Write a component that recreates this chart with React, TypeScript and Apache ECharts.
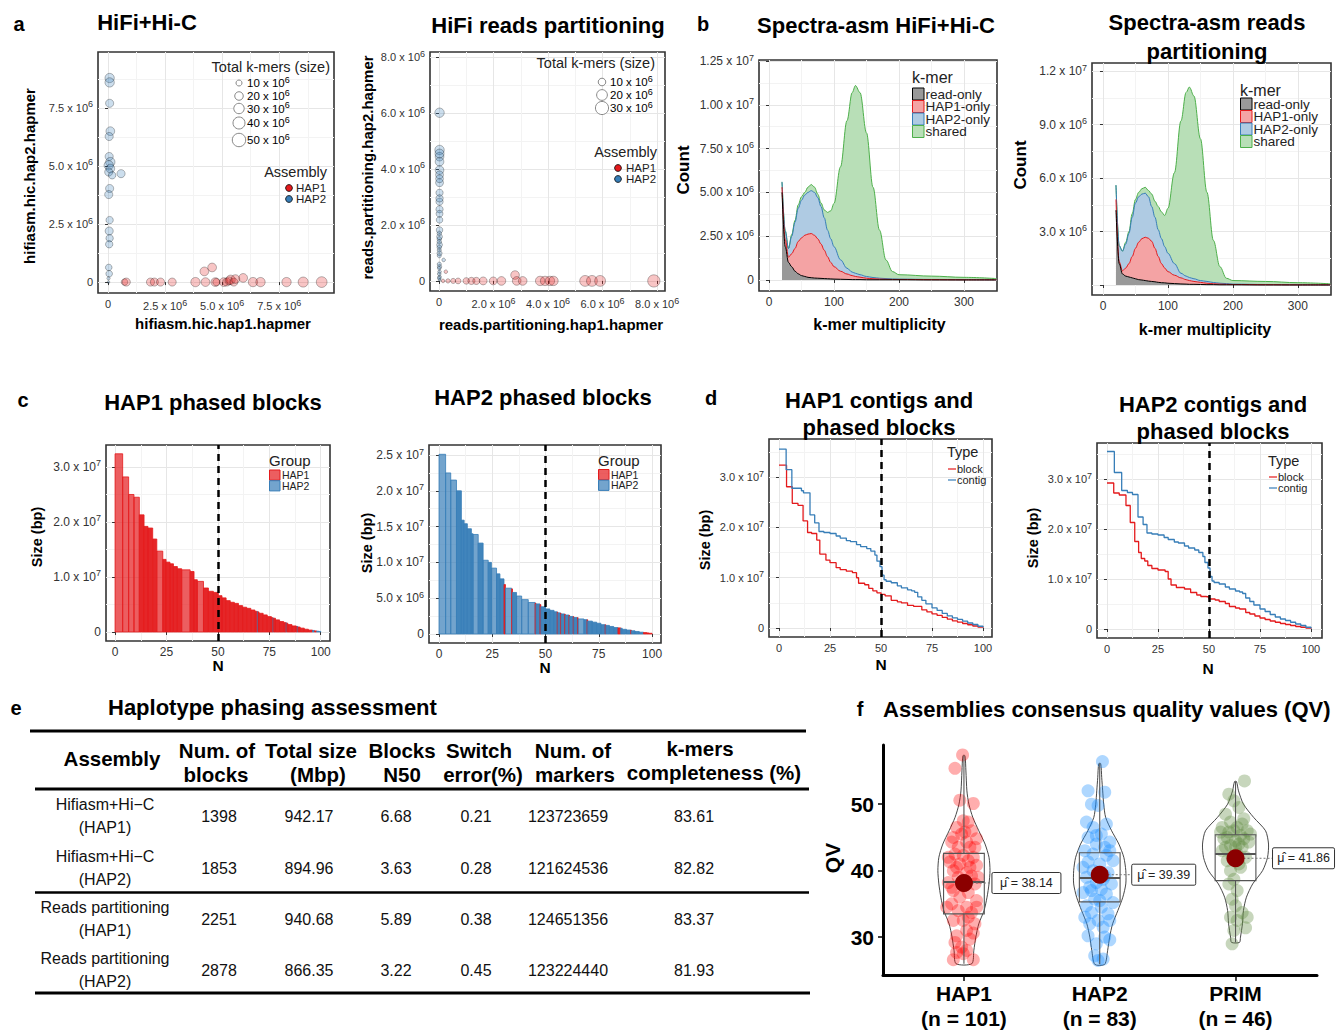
import React, { useEffect, useRef } from "react";
import * as echarts from "echarts";

const FONT = '"Liberation Sans", Arial, Helvetica, sans-serif';
const C_RED = "#e41a1c";
const C_BLUE = "#377eb8";
const C_GREEN = "#4daf4a";

// ---------------- panel a : hapmer blob plots (values in 1e6) ----------------
const aHicTicks = [0, 2.5, 5, 7.5];
const aHicTickLabels = ["0", "2.5 x 10^6", "5.0 x 10^6", "7.5 x 10^6"];
const aHicMinorTicks = [1.25, 3.75, 6.25, 8.75];
const aHicHap1X = [0.72, 0.8, 1.86, 2.03, 2.3, 2.81, 3.83, 4.22, 4.56, 4.27, 4.7, 4.75, 5.07, 5.2, 5.3, 5.37, 5.51, 5.58, 5.92, 6.35, 6.68, 7.82, 8.55, 9.36];
const aHicHap1Y = [0, 0, 0, 0, 0, 0, 0, 0.46, 0.63, 0, 0, 0, 0, 0, 0.05, 0.1, 0, 0.13, 0.18, 0, 0, 0, 0, 0];
const aHicHap1Size = [12, 18, 18, 18, 18, 18, 24, 21, 21, 21, 21, 15, 21, 18, 18, 24, 18, 21, 21, 24, 24, 24, 28, 32];
const aHicHap2X = [0.07, 0.07, 0.07, 0.1, 0.05, 0.05, 0.1, 0.03, 0.1, 0.03, 0.18, 0.57, 0.07, 0.03, 0.07, 0.05, 0.07, 0.05, 0.03, 0.05, 0.02, 0.02];
const aHicHap2Y = [8.79, 8.6, 7.7, 6.5, 6.27, 5.41, 5.17, 5.03, 4.89, 4.74, 4.6, 4.67, 4.03, 3.77, 2.67, 2.2, 1.89, 1.63, 0.63, 0.36, 0.16, 0];
const aHicHap2Size = [24, 24, 18, 21, 18, 18, 24, 24, 21, 18, 15, 18, 18, 18, 15, 18, 15, 15, 12, 12, 3, 2];
const aHicSizeLegend = [10, 20, 30, 40, 50];

const aRpTicks = [0, 2, 4, 6, 8];
const aRpTickLabels = ["0", "2.0 x 10^6", "4.0 x 10^6", "6.0 x 10^6", "8.0 x 10^6"];
const aRpMinorTicks = [1, 3, 5, 7];
const aRpHap1X = [0.15, 0.33, 0.52, 0.7, 1.0, 1.19, 1.37, 1.62, 1.99, 2.29, 2.79, 2.85, 3.07, 3.71, 3.89, 4.07, 4.2, 5.36, 5.61, 5.91, 7.88, 0.25];
const aRpHap1Y = [0, 0, 0, 0, 0, 0, 0, 0, 0, 0, 0.21, 0, 0, 0, 0, 0, 0, 0, 0, 0, 0, 0.33];
const aRpHap1Size = [1.9, 2.8, 3.8, 4.9, 6.3, 7.7, 7.7, 9.3, 9.3, 11, 11, 11, 11, 13, 13, 13, 13, 17.4, 17.4, 17.4, 22.3, 1.9];
const aRpHap2X = [0.02, 0.02, 0.02, 0.02, 0.02, 0.02, 0.02, 0.02, 0.02, 0.02, 0.02, 0.02, 0.02, 0.02, 0.02, 0.17, 0.02, 0.02, 0.02, 0.02, 0.01, 0.01, 0.01, 0.01, 0.01, 0.01, 0.01, 0.01, 0.01, 0.01, 0.02, 0.02, 0.02, 0.02];
const aRpHap2Y = [6.01, 4.68, 4.44, 4.26, 3.96, 3.79, 3.51, 3.15, 2.83, 2.56, 2.18, 1.82, 1.58, 1.29, 0.99, 0.75, 0.51, 0.33, 0.15, 0.04, 1.7, 1.5, 1.4, 1.2, 1.1, 0.9, 0.6, 0.45, 0.25, 0.1, 4.55, 3.65, 2.95, 2.4];
const aRpHap2Size = [13, 13, 11, 11, 11, 9.3, 9.3, 7.7, 7.7, 7.7, 6.3, 6.3, 4.9, 4.9, 3.8, 1.9, 2.8, 1.9, 1.9, 1.2, 3, 3, 3, 3, 2.5, 2.5, 2.5, 2, 2, 2, 12, 9, 8, 7];
const aRpSizeLegend = [10, 20, 30];
const assemblyNames = ["HAP1", "HAP2"];

// ---------------- panel b : spectra-asm (counts in 1e6, one layer per k-mer class) ----------------
const bMultiplicity = [20, 25, 30, 35, 40, 45, 50, 55, 60, 65, 70, 75, 80, 85, 90, 95, 100, 110, 120, 128, 133, 140, 150, 160, 170, 180, 190, 200, 250, 300, 350];
const bHicReadOnly = [5.0, 1.9, 1.0, 0.75, 0.5, 0.35, 0.25, 0.2, 0.15, 0.13, 0.11, 0.1, 0.09, 0.08, 0.07, 0.06, 0.05, 0.04, 0.03, 0.02, 0.02, 0.02, 0.01, 0.01, 0.01, 0.01, 0.01, 0.01, 0, 0, 0];
const bHicHap1Only = [0.3, 0.4, 0.3, 0.75, 1.3, 1.85, 2.15, 2.35, 2.47, 2.52, 2.44, 2.25, 1.96, 1.62, 1.26, 0.94, 0.71, 0.46, 0.31, 0.23, 0.18, 0.14, 0.09, 0.06, 0.04, 0.03, 0.02, 0.02, 0.02, 0.01, 0.01];
const bHicHap2Only = [0.3, 0.5, 0.5, 1.0, 1.5, 1.9, 2.15, 2.3, 2.38, 2.45, 2.45, 2.35, 2.15, 1.85, 1.52, 1.35, 1.14, 0.65, 0.33, 0.2, 0.18, 0.14, 0.1, 0.07, 0.05, 0.04, 0.03, 0.02, 0.01, 0.01, 0];
const bHicShared = [0, 0, 0, 0.1, 0.1, 0.2, 0.2, 0.15, 0.3, 0.35, 0.3, 0.2, 0.2, 0.45, 1.01, 1.6, 2.47, 5.31, 8.43, 10.25, 10.72, 10.4, 8.2, 5.16, 2.75, 1.06, 0.42, 0.25, 0.19, 0.13, 0.07];
const bRpReadOnly = [4.2, 1.2, 0.62, 0.5, 0.45, 0.4, 0.35, 0.3, 0.28, 0.25, 0.22, 0.2, 0.18, 0.15, 0.13, 0.12, 0.1, 0.08, 0.06, 0.05, 0.04, 0.04, 0.03, 0.02, 0.02, 0.01, 0.01, 0.01, 0, 0, 0];
const bRpHap1Only = [0.6, 0.1, 0.18, 0.45, 0.75, 1.2, 1.71, 2.1, 2.32, 2.43, 2.4, 2.25, 1.88, 1.45, 1.07, 0.83, 0.65, 0.47, 0.34, 0.25, 0.21, 0.16, 0.12, 0.08, 0.05, 0.04, 0.03, 0.02, 0.02, 0.01, 0.01];
const bRpHap2Only = [0.8, 0.9, 1.1, 1.35, 1.7, 2.2, 2.54, 2.55, 2.5, 2.47, 2.33, 1.95, 1.74, 1.5, 1.4, 1.2, 1.03, 0.65, 0.26, 0.2, 0.17, 0.15, 0.1, 0.1, 0.07, 0.05, 0.04, 0.02, 0.01, 0.01, 0];
const bRpShared = [0, 0, 0, 0.1, 0.1, 0.2, 0.2, 0.25, 0.3, 0.33, 0.35, 0.7, 0.9, 1.3, 1.5, 1.75, 2.52, 5.1, 8.54, 10.3, 10.68, 10.25, 7.95, 5.0, 2.36, 0.93, 0.3, 0.2, 0.17, 0.11, 0.06];
const kmerClasses = ["read-only", "HAP1-only", "HAP2-only", "shared"];
const bXTicks = [0, 100, 200, 300];
const bXTickLabels = ["0", "100", "200", "300"];
const bXMinor = [50, 150, 250];
const bHicYTicks = [0, 2.5, 5, 7.5, 10, 12.5];
const bHicYTickLabels = ["0", "2.50 x 10^6", "5.00 x 10^6", "7.50 x 10^6", "1.00 x 10^7", "1.25 x 10^7"];
const bHicYMinor = [1.25, 3.75, 6.25, 8.75, 11.25];
const bRpYTicks = [0, 3, 6, 9, 12];
const bRpYTickLabels = ["", "3.0 x 10^6", "6.0 x 10^6", "9.0 x 10^6", "1.2 x 10^7"];
const bRpYMinor = [1.5, 4.5, 7.5, 10.5];

// ---------------- panel c : phased blocks (N end %, size Mbp, group 1=HAP1 2=HAP2) ----------------
const cHap1End = [3.7, 6.6, 9.2, 11.8, 14.1, 16.0, 18.3, 20.3, 23.2, 24.8, 26.7, 28.4, 30.3, 32.4, 36.5, 38.4, 40.0, 43.0, 45.4, 47.8, 50.2, 52, 54, 56, 58, 60, 62, 64, 66, 68, 69.2, 69.5, 70, 72, 74, 76, 76.8, 77.1, 78, 80, 82, 83.2, 83.5, 84, 86, 88, 88.6, 88.9, 90, 92, 94, 96, 97, 98, 99, 100];
const cHap1Size = [32.4, 28.2, 25.0, 24.5, 21.3, 19.2, 18.9, 16.9, 14.7, 13.2, 12.7, 12.4, 11.9, 11.5, 11.3, 11.0, 9.5, 9.2, 8.0, 7.4, 7.2, 6.6, 6.2, 5.7, 5.4, 5.2, 4.8, 4.5, 4.3, 4.0, 3.75, 3.7, 3.65, 3.4, 3.1, 2.8, 2.6, 2.55, 2.5, 2.2, 1.9, 1.7, 1.65, 1.6, 1.35, 1.1, 1.02, 1.0, 0.9, 0.7, 0.5, 0.35, 0.28, 0.2, 0.15, 0.1];
const cHap1Group = [1, 1, 1, 1, 1, 1, 1, 1, 1, 1, 1, 1, 1, 1, 1, 1, 1, 1, 1, 1, 1, 1, 1, 1, 1, 1, 1, 1, 1, 1, 1, 2, 1, 1, 1, 1, 1, 2, 1, 1, 1, 1, 2, 1, 1, 1, 1, 2, 1, 1, 1, 1, 2, 1, 2, 2];
const cHap2End = [3.1, 5.5, 8.2, 10.5, 11.8, 13.3, 15.2, 16.0, 18.4, 20.7, 23.1, 24.6, 27.0, 28.6, 30.5, 31.2, 34.1, 34.5, 36.4, 38.8, 41.9, 45.1, 45.5, 47.4, 47.8, 50, 52, 54, 55.5, 55.8, 57, 57.3, 59, 59.3, 61, 61.3, 63, 63.3, 65, 65.3, 68, 69.5, 69.8, 72, 74, 76, 78, 78.3, 80, 82, 84, 85.3, 86, 88, 90, 90.3, 92, 94, 96, 97.5, 98.5, 100];
const cHap2Size = [25.1, 22.5, 21.5, 20.0, 15.9, 15.4, 14.7, 14.0, 13.9, 12.7, 10.3, 10.0, 9.2, 8.4, 7.7, 6.9, 6.4, 6.3, 5.8, 5.3, 4.8, 4.4, 4.3, 4.2, 4.1, 3.8, 3.5, 3.3, 3.1, 3.05, 2.95, 2.9, 2.8, 2.75, 2.65, 2.6, 2.45, 2.42, 2.3, 2.28, 2.1, 2.0, 1.98, 1.8, 1.65, 1.5, 1.3, 1.28, 1.2, 1.05, 0.9, 0.85, 0.8, 0.65, 0.55, 0.54, 0.45, 0.35, 0.25, 0.2, 0.15, 0.1];
const cHap2Group = [2, 2, 2, 2, 2, 2, 2, 2, 2, 2, 2, 2, 2, 2, 2, 1, 2, 1, 2, 2, 2, 2, 1, 2, 1, 2, 2, 2, 2, 1, 2, 1, 2, 1, 2, 1, 2, 1, 2, 1, 2, 2, 1, 2, 2, 2, 2, 1, 2, 2, 2, 1, 2, 2, 2, 1, 2, 2, 2, 1, 1, 1];
const nTicks = [0, 25, 50, 75, 100];
const nTickLabels = ["0", "25", "50", "75", "100"];
const nMinor = [12.5, 37.5, 62.5, 87.5];
const cHap1YTicks = [0, 10, 20, 30];
const cHap1YTickLabels = ["0", "1.0 x 10^7", "2.0 x 10^7", "3.0 x 10^7"];
const cHap1YMinor = [5, 15, 25];
const cHap2YTicks = [0, 5, 10, 15, 20, 25];
const cHap2YTickLabels = ["0", "5.0 x 10^6", "1.0 x 10^7", "1.5 x 10^7", "2.0 x 10^7", "2.5 x 10^7"];
const cHap2YMinor = [2.5, 7.5, 12.5, 17.5, 22.5];
const nxMark = 50;

// ---------------- panel d : contigs vs blocks (N start %, size Mbp) ----------------
const dHap1ContigN = [0, 3.5, 6.3, 11, 12, 15.2, 17.5, 19.6, 22, 25, 28, 30, 33, 35, 38, 40, 43, 45, 47, 48, 49.5, 50.5, 51.5, 52.5, 55, 58, 60, 63, 65, 66.5, 68, 70, 72, 75, 77.5, 80, 82.5, 85, 87.5, 90, 92.5, 95, 97.5, 100];
const dHap1ContigSize = [35.6, 31.5, 27.8, 27.3, 26.9, 22.5, 20.9, 19.2, 19.0, 18.8, 18.3, 17.9, 17.4, 17.2, 16.6, 16.2, 15.8, 15.3, 14.5, 13.3, 12.2, 10.5, 9.6, 9.3, 9.0, 8.4, 8.0, 7.6, 7.4, 7.1, 6.2, 5.5, 4.8, 4.0, 3.5, 2.9, 2.4, 2.0, 1.7, 1.35, 1.0, 0.7, 0.35, 0.1];
const dHap1BlockN = [0, 3.7, 6.5, 9.3, 11.8, 14, 16, 18.5, 20, 23, 25, 28, 30, 33, 36, 38, 39, 42, 44, 46, 48, 50, 52, 55, 58, 60, 63, 66, 70, 72.5, 75, 77.5, 80, 82.5, 85, 87.5, 90, 92.5, 95, 97.5, 100];
const dHap1BlockSize = [32.4, 28.1, 24.8, 24.4, 21.3, 19.0, 18.8, 17.5, 14.7, 13.5, 13.0, 12.0, 11.6, 11.3, 11.0, 10.0, 8.9, 8.6, 7.9, 7.4, 7.0, 6.7, 6.4, 5.5, 5.2, 5.0, 4.5, 4.3, 3.6, 3.2, 2.8, 2.5, 2.1, 1.75, 1.4, 1.15, 0.9, 0.65, 0.4, 0.2, 0.05];
const dHap2ContigN = [0, 3.6, 7.2, 10, 12.5, 15.2, 17.7, 19.6, 22, 25, 28, 30, 33, 35, 38, 40, 43, 45, 47, 48, 49.5, 50.5, 51.5, 52.5, 55, 58, 60, 63, 65, 66.5, 68, 70, 72, 75, 77.5, 80, 82.5, 85, 87.5, 90, 92.5, 95, 97.5, 100];
const dHap2ContigSize = [35.5, 31.3, 27.7, 27.3, 26.9, 22.4, 20.9, 19.2, 19.0, 18.8, 18.3, 17.9, 17.4, 17.2, 16.6, 16.2, 15.8, 15.3, 14.5, 13.3, 12.2, 10.5, 9.6, 9.3, 9.0, 8.4, 8.0, 7.6, 7.4, 7.1, 6.2, 5.5, 4.8, 4.0, 3.5, 2.9, 2.4, 2.0, 1.7, 1.35, 1.0, 0.7, 0.35, 0.1];
const dHap2BlockN = [0, 3.3, 6, 9.3, 11.4, 13.6, 15.5, 16.8, 18.5, 20, 22, 25, 28.5, 30, 31.4, 34, 38, 41, 44, 46, 48.5, 50, 53, 55, 58, 60, 63, 65, 68, 70, 72.5, 75, 77.5, 80, 82.5, 85, 87.5, 90, 92.5, 95, 97.5, 100];
const dHap2BlockSize = [29.2, 27.2, 26.8, 24.7, 21.3, 17.5, 15.3, 14.1, 13.6, 12.7, 12.1, 11.8, 11.5, 10.0, 8.8, 8.3, 8.0, 7.3, 6.8, 6.5, 6.4, 6.0, 5.8, 5.5, 5.1, 4.5, 4.2, 4.0, 3.3, 3.0, 2.6, 2.2, 1.9, 1.6, 1.35, 1.1, 0.9, 0.7, 0.5, 0.35, 0.2, 0.05];
const dYTicks = [0, 10, 20, 30];
const dYTickLabels = ["0", "1.0 x 10^7", "2.0 x 10^7", "3.0 x 10^7"];
const dYMinor = [5, 15, 25, 35];
const typeNames = ["block", "contig"];

// ---------------- panel e : table ----------------
const tblHeaders = [["Assembly"], ["Num. of", "blocks"], ["Total size", "(Mbp)"], ["Blocks", "N50"], ["Switch", "error(%)"], ["Num. of", "markers"], ["k-mers", "completeness (%)"]];
const tblAssembly = [["Hifiasm+Hi−C", "(HAP1)"], ["Hifiasm+Hi−C", "(HAP2)"], ["Reads partitioning", "(HAP1)"], ["Reads partitioning", "(HAP2)"]];
const tblNumBlocks = ["1398", "1853", "2251", "2878"];
const tblTotalSize = ["942.17", "894.96", "940.68", "866.35"];
const tblN50 = ["6.68", "3.63", "5.89", "3.22"];
const tblSwitch = ["0.21", "0.28", "0.38", "0.45"];
const tblMarkers = ["123723659", "121624536", "124651356", "123224440"];
const tblKmer = ["83.61", "82.82", "83.37", "81.93"];

// ---------------- panel f : QV ----------------
const qvGroups = ["HAP1", "HAP2", "PRIM"];
const qvCounts = [101, 83, 46];
const qvMeans = [38.14, 39.39, 41.86];
const qvQ1 = [33.5, 35.3, 38.5];
const qvMedian = [38.3, 38.9, 42.5];
const qvQ3 = [42.6, 42.7, 45.4];
const qvMin = [26.0, 25.9, 29.2];
const qvMax = [57.3, 56.1, 53.4];
const qvYTicks = [30, 40, 50];
const violinHap1Levels = [26.0, 28, 30, 32, 34, 36, 38, 40, 42, 44, 46, 48, 50, 52, 55, 57.3];
const violinHap1Density = [0.24, 0.3, 0.36, 0.45, 0.61, 0.7, 0.76, 0.79, 0.76, 0.64, 0.45, 0.27, 0.15, 0.09, 0.06, 0.03];
const violinHap2Levels = [25.9, 28, 30, 32, 34, 36, 38, 40, 42, 44, 46, 48, 50, 52, 54, 56.1];
const violinHap2Density = [0.15, 0.24, 0.3, 0.39, 0.55, 0.7, 0.79, 0.79, 0.73, 0.58, 0.36, 0.18, 0.12, 0.09, 0.06, 0.03];
const violinPrimLevels = [29.2, 30, 32, 34, 36, 38, 40, 42, 44, 46, 48, 50, 52, 53.4];
const violinPrimDensity = [0.12, 0.15, 0.21, 0.24, 0.33, 0.52, 0.82, 0.97, 1.0, 0.91, 0.55, 0.24, 0.09, 0.03];
const qvHap1Points = [[-0.01, 57.4], [-0.066, 55.4], [-0.03, 50.6], [0.069, 50.1], [-0.005, 47.5], [0.032, 47.3], [-0.054, 46.5], [0.056, 46.0], [-0.017, 45.5], [-0.078, 45.0], [0.093, 44.8], [0.02, 44.3], [-0.042, 43.5], [0.044, 43.5], [-0.066, 42.5], [-0.005, 42.3], [0.069, 42.0], [-0.103, 41.3], [-0.03, 41.0], [0.032, 41.5], [0.093, 40.8], [-0.078, 40.0], [0.02, 39.7], [0.056, 39.2], [-0.042, 39.0], [-0.115, 38.2], [-0.005, 37.7], [0.081, 38.0], [-0.078, 37.0], [0.032, 36.7], [-0.03, 36.0], [0.093, 35.5], [-0.09, 35.0], [0.02, 34.5], [-0.042, 34.0], [0.056, 33.7], [-0.078, 32.5], [-0.005, 32.5], [0.081, 32.0], [0.02, 31.0], [0.069, 30.6], [-0.054, 30.2], [0.044, 29.7], [-0.066, 29.2], [-0.017, 28.5], [0.02, 28.0], [-0.054, 27.7], [-0.005, 27.5], [-0.078, 26.6], [0.069, 26.6], [-0.09, 44.3], [0.081, 43.5], [0.007, 45.8], [-0.115, 42.0], [0.105, 39.0], [-0.054, 40.5], [0.044, 40.5], [-0.09, 37.5], [-0.127, 34.5], [0.093, 34.5], [0.032, 33.0]];
const qvHap2Points = [[0.02, 56.4], [-0.086, 52.0], [0.037, 51.8], [-0.061, 50.0], [-0.012, 49.8], [-0.098, 47.3], [0.049, 47.0], [-0.049, 46.5], [0.012, 45.5], [-0.086, 45.0], [0.074, 44.3], [-0.025, 44.0], [0.037, 43.5], [-0.11, 43.0], [-0.049, 42.5], [0.049, 42.3], [0.098, 41.5], [-0.086, 41.3], [0, 41.0], [-0.049, 40.0], [0.061, 39.7], [-0.098, 39.0], [0.025, 38.7], [-0.025, 38.2], [0.086, 38.0], [-0.074, 37.5], [0.012, 37.2], [-0.123, 36.7], [0.049, 36.5], [-0.037, 35.7], [0.098, 35.2], [-0.098, 34.7], [0.012, 34.5], [-0.061, 33.7], [0.061, 33.5], [-0.11, 33.0], [-0.012, 32.5], [0.074, 32.5], [-0.074, 32.0], [0.025, 31.5], [-0.086, 30.2], [0.037, 30.0], [0.074, 29.6], [-0.025, 29.0], [-0.037, 27.2], [0.025, 26.7], [-0.012, 26.5], [-0.025, 45.3], [0.074, 43.0], [-0.123, 40.5], [0.037, 39.2], [-0.061, 37.0], [0, 35.5]];
const qvPrimPoints = [[0.066, 53.5], [-0.049, 51.5], [-0.012, 50.5], [0.025, 49.5], [-0.074, 48.5], [0.061, 47.8], [-0.037, 47.3], [-0.098, 46.5], [0.012, 46.5], [0.086, 46.0], [-0.049, 45.8], [0.037, 45.3], [-0.086, 44.8], [0, 44.5], [0.098, 44.3], [-0.037, 43.8], [0.049, 43.5], [-0.098, 43.0], [0.012, 42.5], [0.074, 42.0], [-0.061, 41.5], [0.025, 41.0], [-0.037, 40.0], [-0.012, 38.7], [-0.049, 38.0], [0.012, 37.0], [-0.025, 35.7], [0, 34.7], [0.049, 33.7], [-0.037, 33.0], [0.012, 32.5], [0.074, 31.4], [-0.012, 31.0], [-0.025, 29.0], [-0.11, 45.8], [0.11, 45.5], [-0.074, 43.5], [0.037, 40.5], [0, 43.5], [0.049, 47.0], [-0.061, 45.0], [0.061, 44.8], [-0.012, 46.0], [0.025, 44.0], [-0.025, 42.0], [0.086, 33.0]];

// ---------------- helpers ----------------
// "2.5 x 10^6" -> rich text with a raised exponent
function supRich(label: string) {
  const k = label.indexOf("^");
  if (k < 0) return `{m|${label}}`;
  return `{m|${label.slice(0, k)}}{s|${label.slice(k + 1)}}`;
}
function richStyles(size: number, color: string) {
  return {
    m: { fontSize: size, color, fontFamily: FONT },
    s: { fontSize: Math.round(size * 0.78), color, fontFamily: FONT, padding: [0, 0, Math.round(size * 0.6), 0] },
  };
}
function fmtFrom(ticks: number[], labels: string[]) {
  return (v: number) => {
    for (let i = 0; i < ticks.length; i++) if (Math.abs(ticks[i] - v) < 1e-6) return supRich(labels[i]);
    return "";
  };
}

function majorAxis(gridIndex: number, isX: boolean, s: any) {
  return {
    type: "value", gridIndex, min: s.min, max: s.max, position: isX ? "bottom" : "left",
    axisLine: { show: false },
    axisTick: { show: true, inside: false, length: 3, lineStyle: { color: "#333", width: 1 }, customValues: s.ticks },
    axisLabel: { show: true, customValues: s.ticks, formatter: fmtFrom(s.ticks, s.labels), color: "#333", fontSize: s.fontSize, fontFamily: FONT, margin: 5, rich: richStyles(s.fontSize, "#333") },
    splitLine: { show: true, lineStyle: { color: "#e6e6e6", width: 1 } },
  };
}
function minorAxis(gridIndex: number, isX: boolean, s: any) {
  return {
    type: "value", gridIndex, min: s.min, max: s.max, position: isX ? "top" : "right",
    axisLine: { show: false },
    axisTick: { show: false, customValues: s.minor },
    axisLabel: { show: false, customValues: s.minor },
    splitLine: { show: true, lineStyle: { color: "#f3f3f3", width: 1 } },
  };
}

function txt(text: string, x: number, y: number, size: number, o: any = {}) {
  return {
    type: "text", x, y, z: 100, rotation: o.rot ? Math.PI / 2 : 0,
    style: {
      text, fill: o.color || "#000",
      font: `${o.bold ? "bold " : ""}${size}px ${FONT}`,
      textAlign: o.align || "center", textVerticalAlign: "middle",
    },
  };
}
function supTxt(label: string, x: number, y: number, size: number, color: string) {
  return {
    type: "text", x, y, z: 100,
    style: { text: supRich(label), rich: richStyles(size, color), textAlign: "left", textVerticalAlign: "middle" },
  };
}

function buildOption() {
  const grid: any[] = [], xAxis: any[] = [], yAxis: any[] = [], series: any[] = [], g: any[] = [];

  const panel = (rect: number[], xs: any, ys: any) => {
    const gi = grid.length;
    grid.push({ left: rect[0], top: rect[1], width: rect[2], height: rect[3], show: true, backgroundColor: "#fff", borderColor: "#333", borderWidth: 1.6, containLabel: false, outerBoundsMode: "none" });
    const xi = xAxis.length; xAxis.push(majorAxis(gi, true, xs));
    const yi = yAxis.length; yAxis.push(majorAxis(gi, false, ys));
    xAxis.push(minorAxis(gi, true, xs));
    yAxis.push(minorAxis(gi, false, ys));
    return { xi, yi };
  };

  // ---------- a ----------
  const blob = (P: any, xs: number[], ys: number[], ss: number[], k: number, fill: string) => ({
    type: "scatter", xAxisIndex: P.xi, yAxisIndex: P.yi,
    data: xs.map((x, i) => [x, ys[i], ss[i]]),
    symbolSize: (d: number[]) => k * Math.sqrt(d[2]),
    itemStyle: { color: fill, borderColor: "rgba(0,0,0,0.5)", borderWidth: 0.7 },
    z: 3,
  });
  const A1 = panel([98, 52, 236, 241],
    { min: -0.44, max: 9.9, ticks: aHicTicks, labels: aHicTickLabels, minor: aHicMinorTicks, fontSize: 11 },
    { min: -0.47, max: 9.91, ticks: aHicTicks, labels: aHicTickLabels, minor: aHicMinorTicks, fontSize: 11 });
  series.push(blob(A1, aHicHap1X, aHicHap1Y, aHicHap1Size, 1.9, "rgba(228,26,28,0.32)"));
  series.push(blob(A1, aHicHap2X, aHicHap2Y, aHicHap2Size, 1.9, "rgba(55,126,184,0.32)"));
  const A2 = panel([430, 52, 235, 239],
    { min: -0.33, max: 8.29, ticks: aRpTicks, labels: aRpTickLabels, minor: aRpMinorTicks, fontSize: 11 },
    { min: -0.36, max: 8.18, ticks: aRpTicks, labels: aRpTickLabels, minor: aRpMinorTicks, fontSize: 11 });
  series.push(blob(A2, aRpHap1X, aRpHap1Y, aRpHap1Size, 2.6, "rgba(228,26,28,0.32)"));
  series.push(blob(A2, aRpHap2X, aRpHap2Y, aRpHap2Size, 2.6, "rgba(55,126,184,0.32)"));

  // ---------- b (stacked spectra: cumulative tops drawn back to front) ----------
  const kBoxFill = ["#999999", "#f4a3a4", "#afcbe3", "#b8dfb7"];
  const kLine = ["#000", C_RED, C_BLUE, C_GREEN];
  const spectra = (P: any, layers: number[][]) => {
    const tops = layers.map((_, li) => bMultiplicity.map((__, i) => {
      let s = 0; for (let k = 0; k <= li; k++) s += layers[k][i]; return s;
    }));
    for (let li = layers.length - 1; li >= 0; li--) {
      series.push({
        type: "line", name: kmerClasses[li], xAxisIndex: P.xi, yAxisIndex: P.yi,
        smooth: 0.35, smoothMonotone: "x", showSymbol: false, symbol: "none",
        data: bMultiplicity.map((m, i) => [m, tops[li][i]]),
        lineStyle: { color: kLine[li], width: 1 }, areaStyle: { color: kBoxFill[li], opacity: 1 }, z: 2,
      });
    }
  };
  const B1 = panel([759, 60, 238, 231],
    { min: -15.4, max: 350.8, ticks: bXTicks, labels: bXTickLabels, minor: bXMinor, fontSize: 12 },
    { min: -0.63, max: 12.56, ticks: bHicYTicks, labels: bHicYTickLabels, minor: bHicYMinor, fontSize: 12 });
  spectra(B1, [bHicReadOnly, bHicHap1Only, bHicHap2Only, bHicShared]);
  const B2 = panel([1092, 63, 239, 232],
    { min: -16.9, max: 351, ticks: bXTicks, labels: bXTickLabels, minor: bXMinor, fontSize: 12 },
    { min: -0.56, max: 12.45, ticks: bRpYTicks, labels: bRpYTickLabels, minor: bRpYMinor, fontSize: 12 });
  spectra(B2, [bRpReadOnly, bRpHap1Only, bRpHap2Only, bRpShared]);

  // ---------- c ----------
  const nxLine = {
    silent: true, symbol: ["none", "none"], label: { show: false },
    lineStyle: { color: "#000", width: 2.5, type: [7, 5] }, data: [{ xAxis: nxMark }], z: 5,
  };
  const blocks = (P: any, ends: number[], sizes: number[], groups: number[]) => ({
    type: "custom", xAxisIndex: P.xi, yAxisIndex: P.yi,
    data: ends.map((e, i) => [i === 0 ? 0 : ends[i - 1], e, sizes[i], groups[i]]),
    encode: { x: [0, 1], y: [2] },
    renderItem: (params: any, api: any) => {
      const p0 = api.coord([api.value(0), api.value(2)]);
      const p1 = api.coord([api.value(1), 0]);
      const w = p1[0] - p0[0];
      const rgb = api.value(3) === 1 ? "228,26,28" : "55,126,184";
      return {
        type: "rect", shape: { x: p0[0], y: p0[1], width: w, height: p1[1] - p0[1] },
        style: { fill: `rgba(${rgb},${w < 5 ? 0.95 : 0.7})`, stroke: `rgb(${rgb})`, lineWidth: 0.8 },
      };
    },
    markLine: nxLine, z: 2,
  });
  const C1 = panel([106, 445, 224, 196],
    { min: -4.4, max: 104.5, ticks: nTicks, labels: nTickLabels, minor: nMinor, fontSize: 12 },
    { min: -1.64, max: 34.0, ticks: cHap1YTicks, labels: cHap1YTickLabels, minor: cHap1YMinor, fontSize: 12 });
  series.push(blocks(C1, cHap1End, cHap1Size, cHap1Group));
  const C2 = panel([429, 445, 232, 198],
    { min: -4.7, max: 104.2, ticks: nTicks, labels: nTickLabels, minor: nMinor, fontSize: 12 },
    { min: -1.26, max: 26.4, ticks: cHap2YTicks, labels: cHap2YTickLabels, minor: cHap2YMinor, fontSize: 12 });
  series.push(blocks(C2, cHap2End, cHap2Size, cHap2Group));

  // ---------- d ----------
  const stepLine = (P: any, ns: number[], ss: number[], color: string, mark: boolean) => ({
    type: "line", xAxisIndex: P.xi, yAxisIndex: P.yi, step: "end", showSymbol: false, symbol: "none",
    data: ns.map((n, i) => [n, ss[i]]), lineStyle: { color, width: 1.3 }, z: 3,
    ...(mark ? { markLine: nxLine } : {}),
  });
  const D1 = panel([769, 439, 223, 198],
    { min: -4.9, max: 104.4, ticks: nTicks, labels: nTickLabels, minor: nMinor, fontSize: 11 },
    { min: -1.79, max: 37.6, ticks: dYTicks, labels: dYTickLabels, minor: dYMinor, fontSize: 11 });
  series.push(stepLine(D1, dHap1BlockN, dHap1BlockSize, C_RED, false));
  series.push(stepLine(D1, dHap1ContigN, dHap1ContigSize, C_BLUE, true));
  const D2 = panel([1097, 443, 225, 195],
    { min: -4.9, max: 105.4, ticks: nTicks, labels: nTickLabels, minor: nMinor, fontSize: 11 },
    { min: -1.8, max: 37.2, ticks: dYTicks, labels: dYTickLabels, minor: dYMinor, fontSize: 11 });
  series.push(stepLine(D2, dHap2BlockN, dHap2BlockSize, C_RED, false));
  series.push(stepLine(D2, dHap2ContigN, dHap2ContigSize, C_BLUE, true));

  // ---------- f ----------
  const fg = grid.length;
  grid.push({ left: 883, top: 745, width: 434, height: 230, show: false, containLabel: false, outerBoundsMode: "none" });
  const fx = xAxis.length;
  xAxis.push({
    type: "value", gridIndex: fg, min: 0.404, max: 3.6, position: "bottom",
    axisLine: { show: true, onZero: false, lineStyle: { color: "#000", width: 3 } },
    axisTick: { show: true, customValues: [1, 2, 3], length: 6, lineStyle: { color: "#000", width: 1.5 } },
    axisLabel: {
      customValues: [1, 2, 3], formatter: (v: number) => { const i = Math.round(v) - 1; return `${qvGroups[i]}\n(n = ${qvCounts[i]})`; },
      fontSize: 21, fontWeight: "bold", color: "#000", fontFamily: FONT, lineHeight: 25, margin: 6,
    },
    splitLine: { show: false },
  });
  const fy = yAxis.length;
  yAxis.push({
    type: "value", gridIndex: fg, min: 24.3, max: 58.9, position: "left",
    axisLine: { show: true, onZero: false, lineStyle: { color: "#000", width: 3 } },
    axisTick: { show: true, customValues: qvYTicks, length: 5, lineStyle: { color: "#000", width: 1.5 } },
    axisLabel: { customValues: qvYTicks, fontSize: 21, fontWeight: "bold", color: "#000", fontFamily: FONT, margin: 9 },
    splitLine: { show: false },
  });
  const vLevels = [violinHap1Levels, violinHap2Levels, violinPrimLevels];
  const vDens = [violinHap1Density, violinHap2Density, violinPrimDensity];
  const VIOLIN_HALF = 0.243;
  series.push({
    type: "custom", xAxisIndex: fx, yAxisIndex: fy, data: qvGroups.map((_, i) => [i + 1, qvMeans[i]]),
    encode: { x: 0, y: 1 }, z: 2,
    renderItem: (params: any, api: any) => {
      const i = params.dataIndex; const cx = i + 1;
      const lv = vLevels[i], dn = vDens[i];
      const right = lv.map((q, k) => api.coord([cx + dn[k] * VIOLIN_HALF, q]));
      const left = lv.map((q, k) => api.coord([cx - dn[k] * VIOLIN_HALF, q])).reverse();
      return { type: "polygon", shape: { points: right.concat(left), smooth: 0.25 }, style: { fill: "none", stroke: "#333", lineWidth: 0.9 } };
    },
  });
  const ptColors = ["rgba(255,0,0,0.4)", "rgba(30,144,255,0.45)", "rgba(100,140,70,0.45)"];
  [qvHap1Points, qvHap2Points, qvPrimPoints].forEach((pts, i) => series.push({
    type: "scatter", xAxisIndex: fx, yAxisIndex: fy, symbolSize: 13, z: 3,
    data: pts.map(([dx, q]) => [i + 1 + dx, q]), itemStyle: { color: ptColors[i] },
  }));
  const BOX_HALF = 0.15;
  series.push({
    type: "custom", xAxisIndex: fx, yAxisIndex: fy, data: qvGroups.map((_, i) => [i + 1, qvMedian[i]]),
    encode: { x: 0, y: 1 }, z: 4,
    renderItem: (params: any, api: any) => {
      const i = params.dataIndex; const cx = i + 1;
      const tl = api.coord([cx - BOX_HALF, qvQ3[i]]), br = api.coord([cx + BOX_HALF, qvQ1[i]]);
      const mL = api.coord([cx - BOX_HALF, qvMedian[i]]), mR = api.coord([cx + BOX_HALF, qvMedian[i]]);
      const top = api.coord([cx, qvMax[i]]), q3 = api.coord([cx, qvQ3[i]]), q1 = api.coord([cx, qvQ1[i]]), bot = api.coord([cx, qvMin[i]]);
      const st = { stroke: "#555", lineWidth: 1.1, fill: "none" };
      return {
        type: "group", children: [
          { type: "line", shape: { x1: top[0], y1: top[1], x2: q3[0], y2: q3[1] }, style: st },
          { type: "line", shape: { x1: q1[0], y1: q1[1], x2: bot[0], y2: bot[1] }, style: st },
          { type: "rect", shape: { x: tl[0], y: tl[1], width: br[0] - tl[0], height: br[1] - tl[1] }, style: st },
          { type: "line", shape: { x1: mL[0], y1: mL[1], x2: mR[0], y2: mR[1] }, style: { stroke: "#555", lineWidth: 2 } },
        ],
      };
    },
  });
  const labelOffset = [28, 32, 37];
  const labelWidth = [69, 64, 62];
  series.push({
    type: "custom", xAxisIndex: fx, yAxisIndex: fy, data: qvGroups.map((_, i) => [i + 1, qvMeans[i]]),
    encode: { x: 0, y: 1 }, z: 6,
    renderItem: (params: any, api: any) => {
      const i = params.dataIndex;
      const p = api.coord([api.value(0), api.value(1)]);
      const bx = p[0] + labelOffset[i];
      return {
        type: "group", children: [
          { type: "line", shape: { x1: p[0], y1: p[1], x2: bx, y2: p[1] }, style: { stroke: "#777", lineWidth: 1, lineDash: [2, 2] } },
          { type: "circle", shape: { cx: p[0], cy: p[1], r: 9 }, style: { fill: "#8b0000" } },
          { type: "rect", shape: { x: bx, y: p[1] - 10.5, width: labelWidth[i], height: 21, r: 1.5 }, style: { fill: "#fff", stroke: "#333", lineWidth: 1 } },
          { type: "text", x: bx + labelWidth[i] / 2, y: p[1], style: { text: `μ\u0302 = ${qvMeans[i].toFixed(2)}`, textAlign: "center", textVerticalAlign: "middle", font: `12.5px ${FONT}`, fill: "#222" } },
        ],
      };
    },
  });

  // ---------- texts: letters, titles, axis titles ----------
  [["a", 19, 24], ["b", 703, 24], ["c", 23, 400], ["d", 711, 398], ["e", 16, 708], ["f", 860, 709]].forEach(([t, x, y]: any) => g.push(txt(t, x, y, 20, { bold: true })));
  [["HiFi+Hi-C", 147, 22.5], ["HiFi reads partitioning", 548, 25], ["Spectra-asm HiFi+Hi-C", 876, 25], ["Spectra-asm reads", 1207, 22.5], ["partitioning", 1207, 51],
   ["HAP1 phased blocks", 213, 402], ["HAP2 phased blocks", 543, 397.5], ["HAP1 contigs and", 879, 400.5], ["phased blocks", 879, 427.5],
   ["HAP2 contigs and", 1213, 404], ["phased blocks", 1213, 431]].forEach(([t, x, y]: any) => g.push(txt(t, x, y, 22, { bold: true })));
  g.push(txt("Haplotype phasing assessment", 108, 707.5, 22, { bold: true, align: "left" }));
  g.push(txt("Assemblies consensus quality values (QV)", 883, 709.5, 22, { bold: true, align: "left" }));
  g.push(txt("hifiasm.hic.hap2.hapmer", 29, 176, 15, { bold: true, rot: true }));
  g.push(txt("hifiasm.hic.hap1.hapmer", 223, 323, 15, { bold: true }));
  g.push(txt("reads.partitioning.hap2.hapmer", 367, 167.5, 15, { bold: true, rot: true }));
  g.push(txt("reads.partitioning.hap1.hapmer", 551, 324, 15, { bold: true }));
  g.push(txt("Count", 683, 170, 17, { bold: true, rot: true }));
  g.push(txt("k-mer multiplicity", 879.5, 324, 16, { bold: true }));
  g.push(txt("Count", 1020, 165, 17, { bold: true, rot: true }));
  g.push(txt("k-mer multiplicity", 1205, 329, 16, { bold: true }));
  [[37, 537], [367, 543], [705, 540], [1033, 538]].forEach(([x, y]) => g.push(txt("Size (bp)", x, y, 14.5, { bold: true, rot: true })));
  [[218, 665], [545, 667], [881, 664], [1208, 668]].forEach(([x, y]) => g.push(txt("N", x, y, 15.5, { bold: true })));
  g.push(txt("QV", 832, 858, 21, { bold: true, rot: true }));

  // ---------- legends ----------
  // a-left
  g.push(txt("Total k-mers (size)", 330, 67, 14.5, { align: "right", color: "#222" }));
  const aLy1 = [83, 96, 108.5, 123, 140];
  aHicSizeLegend.forEach((v, i) => {
    g.push({ type: "circle", z: 100, shape: { cx: 239, cy: aLy1[i], r: (1.9 * Math.sqrt(v)) / 2 }, style: { fill: "#fff", stroke: "#888", lineWidth: 1 } });
    g.push(supTxt(`${v} x 10^6`, 247, aLy1[i], 11.5, "#222"));
  });
  g.push(txt("Assembly", 327, 172, 14.5, { align: "right", color: "#222" }));
  assemblyNames.forEach((n, i) => {
    g.push({ type: "circle", z: 100, shape: { cx: 289, cy: 188 + i * 11, r: 3.4 }, style: { fill: i === 0 ? C_RED : C_BLUE, stroke: "#000", lineWidth: 0.8 } });
    g.push(txt(n, 296, 188 + i * 11, 11.5, { align: "left", color: "#222" }));
  });
  // a-right
  g.push(txt("Total k-mers (size)", 655, 63, 14.5, { align: "right", color: "#222" }));
  const aLy2 = [82, 95, 108];
  aRpSizeLegend.forEach((v, i) => {
    g.push({ type: "circle", z: 100, shape: { cx: 602, cy: aLy2[i], r: (2.4 * Math.sqrt(v)) / 2 }, style: { fill: "#fff", stroke: "#888", lineWidth: 1 } });
    g.push(supTxt(`${v} x 10^6`, 610, aLy2[i], 11.5, "#222"));
  });
  g.push(txt("Assembly", 657, 152, 14.5, { align: "right", color: "#222" }));
  assemblyNames.forEach((n, i) => {
    g.push({ type: "circle", z: 100, shape: { cx: 618, cy: 168 + i * 11, r: 3.4 }, style: { fill: i === 0 ? C_RED : C_BLUE, stroke: "#000", lineWidth: 0.8 } });
    g.push(txt(n, 626, 168 + i * 11, 11.5, { align: "left", color: "#222" }));
  });
  // b legends
  const kmerLegend = (x: number, titleY: number, top: number) => {
    g.push(txt("k-mer", x, titleY, 16, { align: "left", color: "#222" }));
    kmerClasses.forEach((k, i) => {
      g.push({ type: "rect", z: 100, shape: { x: x + 0.5, y: top + i * 12.5, width: 11.5, height: 12 }, style: { fill: kBoxFill[i], stroke: kLine[i], lineWidth: 1 } });
      g.push(txt(k, x + 13.5, top + i * 12.5 + 6, 13.5, { align: "left", color: "#222" }));
    });
  };
  kmerLegend(912, 77.5, 88);
  kmerLegend(1240, 90, 98);
  // c legends
  const groupLegend = (x: number, titleY: number, top: number) => {
    g.push(txt("Group", x, titleY, 15, { align: "left", color: "#222" }));
    assemblyNames.forEach((n, i) => {
      g.push({ type: "rect", z: 100, shape: { x: x + 0.5, y: top + i * 10.7, width: 10.5, height: 10.2 }, style: { fill: i === 0 ? "rgba(228,26,28,0.7)" : "rgba(55,126,184,0.7)", stroke: i === 0 ? C_RED : C_BLUE, lineWidth: 1 } });
      g.push(txt(n, x + 13, top + i * 10.7 + 5.1, 10.5, { align: "left", color: "#222" }));
    });
  };
  groupLegend(269, 460, 470);
  groupLegend(598, 460, 469.5);
  // d legends
  const typeLegend = (x: number, titleY: number, y0: number) => {
    g.push(txt("Type", x, titleY, 14.5, { align: "left", color: "#222" }));
    typeNames.forEach((n, i) => {
      g.push({ type: "line", z: 100, shape: { x1: x + 1, y1: y0 + i * 11, x2: x + 9, y2: y0 + i * 11 }, style: { stroke: i === 0 ? C_RED : C_BLUE, lineWidth: 1.2 } });
      g.push(txt(n, x + 10, y0 + i * 11, 11, { align: "left", color: "#222" }));
    });
  };
  typeLegend(947, 452, 469);
  typeLegend(1268, 461, 477);

  // ---------- table e ----------
  const hline = (x1: number, x2: number, y: number, h: number) => g.push({ type: "rect", z: 100, shape: { x: x1, y: y - h / 2, width: x2 - x1, height: h }, style: { fill: "#000" } });
  hline(30, 806, 731, 3);
  hline(35, 809, 789, 3);
  hline(35, 809, 892.5, 2.5);
  hline(35, 810, 993, 3);
  const hdrX = [[112], [217, 216], [311, 318], [402, 402], [479, 483], [573, 575], [700, 714]];
  tblHeaders.forEach((lines, c) => {
    if (lines.length === 1) g.push(txt(lines[0], hdrX[c][0], 758, 20.5, { bold: true }));
    else lines.forEach((l, k) => g.push(txt(l, hdrX[c][k], (c === 6 ? 748 : 750) + k * 24.5, 20.5, { bold: true })));
  });
  const rowY = [816, 868, 919, 970];
  tblAssembly.forEach((lines, r) => lines.forEach((l, k) => g.push(txt(l, 105, rowY[r] - 12 + k * 23.5, 16, { color: "#111" }))));
  const colX = [219, 309, 396, 476, 568, 694];
  [tblNumBlocks, tblTotalSize, tblN50, tblSwitch, tblMarkers, tblKmer].forEach((col, c) =>
    col.forEach((v, r) => g.push(txt(v, colX[c], rowY[r], 16, { color: "#111" }))));

  return {
    animation: false,
    backgroundColor: "#fff",
    textStyle: { fontFamily: FONT },
    grid, xAxis, yAxis, series,
    graphic: { elements: g },
  };
}

export default function App() {
  const ref = useRef<HTMLDivElement>(null);
  useEffect(() => {
    document.body.style.margin = "0";
    const chart = echarts.init(ref.current as HTMLDivElement, null, { renderer: "svg", width: 1338, height: 1030 });
    chart.setOption(buildOption() as any);
    return () => chart.dispose();
  }, []);
  return <div ref={ref} style={{ width: 1338, height: 1030, background: "#fff" }} />;
}
